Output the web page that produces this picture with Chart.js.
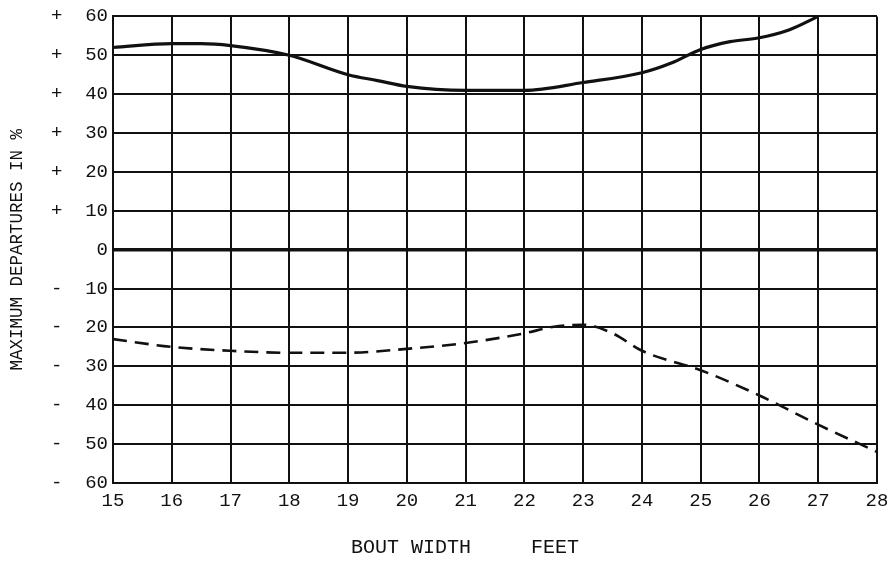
<!DOCTYPE html>
<html>
<head>
<meta charset="utf-8">
<script src="https://cdn.jsdelivr.net/npm/chart.js@4/dist/chart.umd.min.js"></script>
<style>
  html, body { margin: 0; padding: 0; background: #fff; }
  #wrap { width: 887px; height: 563px; }
</style>
</head>
<body>
<div id="wrap"><canvas id="chart" width="887" height="563"></canvas></div>
<script>
// bout width in feet
var solid_x = [15, 16, 16.5, 17, 18, 19, 19.5, 20, 21, 22, 23, 24, 24.5, 25, 25.5, 26, 26.5, 27];
var solid_y = [52, 53, 53, 52.5, 50, 45, 43.5, 42, 41, 41, 43, 45.5, 48, 51.5, 53.5, 54.5, 56.5, 60];

var dashed_x = [15, 16, 17, 18, 19, 20, 21, 22, 22.5, 23, 23.5, 24, 25, 26, 27, 28];
var dashed_y = [-23, -25, -26, -26.5, -26.5, -25.5, -24, -21.5, -19.8, -19.3, -21.5, -26, -31, -37.5, -45, -52];

var y_ticks = [60, 50, 40, 30, 20, 10, 0, -10, -20, -30, -40, -50, -60];
var x_ticks = [15, 16, 17, 18, 19, 20, 21, 22, 23, 24, 25, 26, 27, 28];

var x_title = "BOUT WIDTH     FEET     ";
var y_title = "MAXIMUM DEPARTURES IN %";

function to_points(xs, ys) {
  return xs.map((x, i) => ({ x: x, y: ys[i] }));
}

function y_label(v) {
  if (v > 0) return "+  " + v;
  if (v < 0) return "-  " + Math.abs(v);
  return "0";
}

var ink = "#111";

new Chart(document.getElementById("chart"), {
  type: "line",
  data: {
    datasets: [
      {
        label: "upper",
        data: to_points(solid_x, solid_y),
        borderColor: ink,
        borderWidth: 3.2,
        pointRadius: 0,
        cubicInterpolationMode: "monotone",
      },
      {
        label: "lower",
        data: to_points(dashed_x, dashed_y),
        borderColor: ink,
        borderWidth: 2.6,
        borderDash: [14, 8],
        pointRadius: 0,
        cubicInterpolationMode: "monotone",
      },
    ],
  },
  options: {
    responsive: false,
    animation: false,
    layout: { padding: { top: 15, right: 10, left: 0, bottom: 0 } },
    plugins: { legend: { display: false }, tooltip: { enabled: false } },
    scales: {
      x: {
        type: "linear",
        min: 15,
        max: 28,
        afterBuildTicks: (axis) => { axis.ticks = x_ticks.map((v) => ({ value: v })); },
        afterFit: (axis) => {
          axis.height = 80;
          axis.paddingLeft = 0;
          axis.paddingRight = 0;
        },
        grid: { color: ink, lineWidth: 2, drawTicks: false },
        border: { color: ink, width: 2 },
        ticks: {
          color: ink,
          padding: 7,
          maxRotation: 0,
          font: { family: "Liberation Mono", size: 19 },
        },
        title: {
          display: true,
          text: x_title,
          color: ink,
          padding: { top: 0, bottom: 3 },
          font: { family: "Liberation Mono", size: 20 },
        },
      },
      y: {
        min: -60,
        max: 60,
        afterBuildTicks: (axis) => { axis.ticks = y_ticks.map((v) => ({ value: v })); },
        afterFit: (axis) => { axis.width = 113; },
        grid: {
          color: ink,
          lineWidth: (ctx) => (ctx.tick && ctx.tick.value === 0 ? 3.5 : 2),
          drawTicks: false,
        },
        border: { color: ink, width: 2 },
        ticks: {
          color: ink,
          padding: 5,
          callback: (v) => y_label(v),
          font: { family: "Liberation Mono", size: 19 },
        },
        title: {
          display: true,
          text: y_title,
          color: ink,
          padding: { top: 7, bottom: 0 },
          font: { family: "Liberation Mono", size: 17.5 },
        },
      },
    },
  },
});
</script>
</body>
</html>
